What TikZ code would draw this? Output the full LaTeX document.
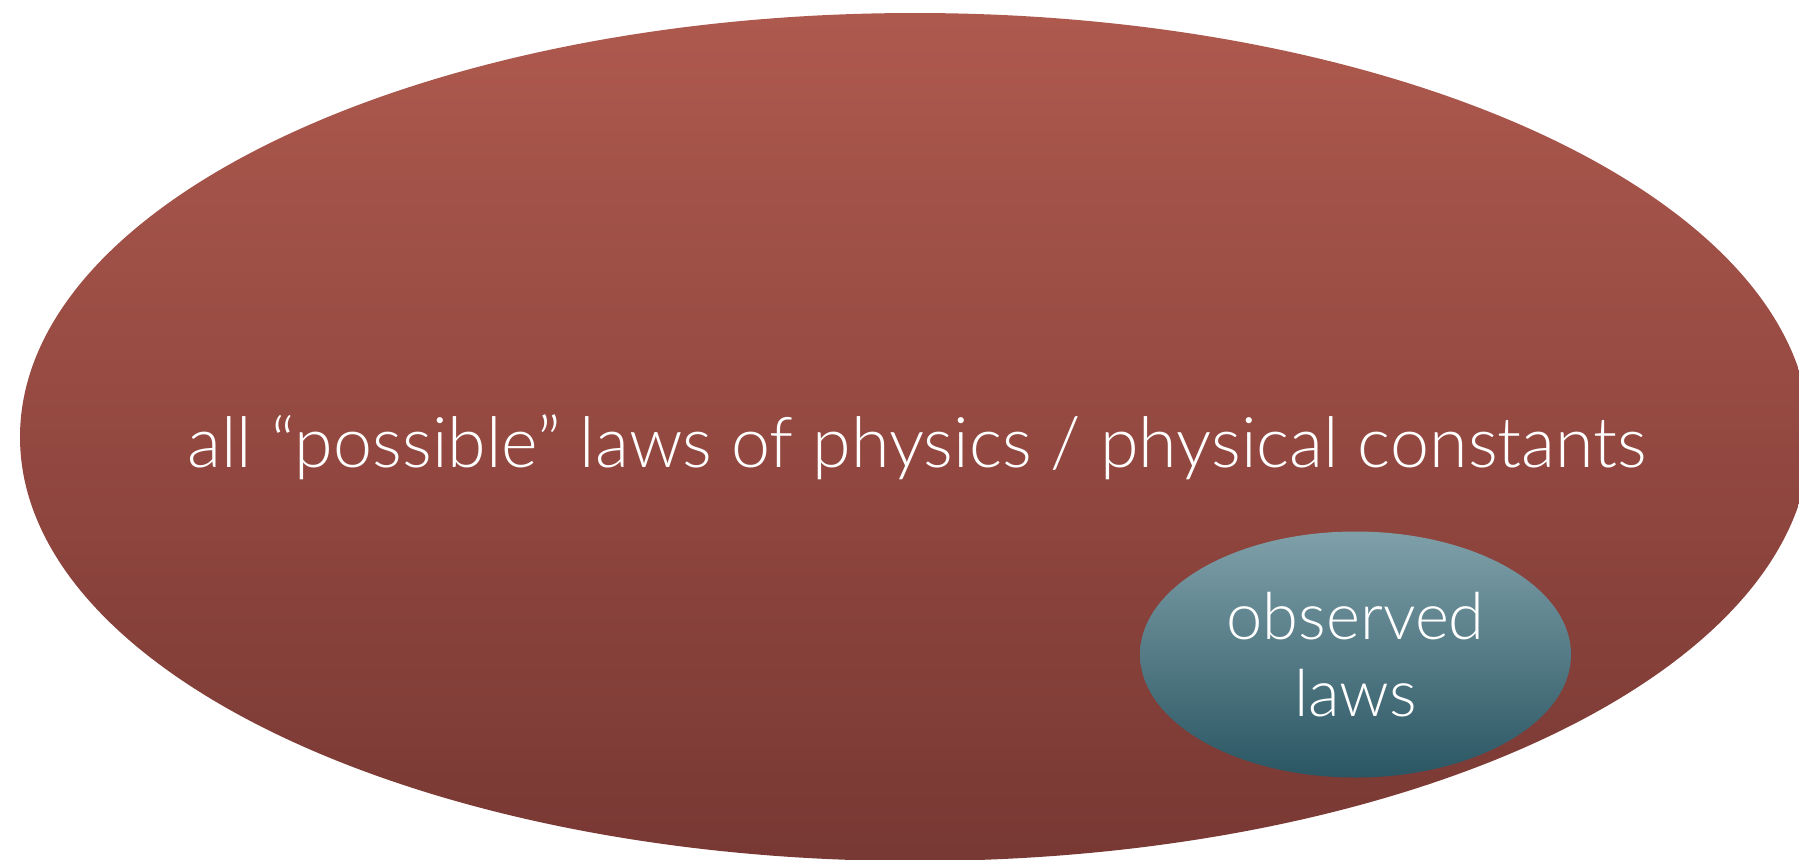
\documentclass[tikz,border=0pt]{standalone}
\usepackage{fontspec}
\setmainfont{Lato}[UprightFont={* Light}]
\usetikzlibrary{shapes.geometric}

\definecolor{possibletop}{RGB}{174,89,78}
\definecolor{possiblebottom}{RGB}{120,56,51}
\definecolor{observedtop}{RGB}{127,160,169}
\definecolor{observedbottom}{RGB}{42,86,99}

\begin{document}
\begin{tikzpicture}[
      x=0.5pt, y=-0.5pt,
      blob/.style={ellipse, inner sep=0pt, outer sep=0pt, draw=none},
      caption/.style={text=white, align=center}
    ]
    \useasboundingbox (0,0) rectangle (1799,859);
    \clip (0,0) rectangle (1799,859);

    % outer set of laws
    \node[blob, minimum width=895pt, minimum height=424pt,
          top color=possibletop, bottom color=possiblebottom] (possible) at (915,437) {};
    \node[caption, font=\fontsize{35}{38.5}\selectfont] (possibletext) at (917,447)
      {all “possible” laws of physics / physical constants};

    % what we actually see
    \node[blob, minimum width=215.5pt, minimum height=123pt,
          top color=observedtop, bottom color=observedbottom] (observed) at (1355.5,654.5) {};
    \node[caption, font=\fontsize{32.5}{38.5}\selectfont] (observedtext) at (1355.5,655)
      {observed\\laws};
  \end{tikzpicture}
\end{document}
